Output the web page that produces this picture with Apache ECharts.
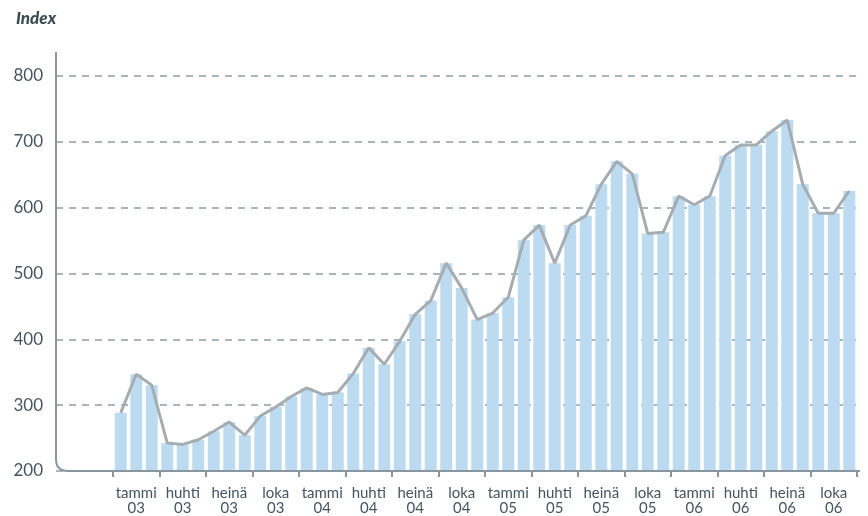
<!DOCTYPE html>
<html>
<head>
<meta charset="utf-8">
<script src="https://cdn.jsdelivr.net/npm/echarts@6/dist/echarts.min.js"></script>
<style>
  html, body { margin: 0; padding: 0; background: #fff; }
  #chart { width: 868px; height: 516px; }
</style>
</head>
<body>
<div id="chart"></div>
<script>
const monthNames = ['tammi', 'helmi', 'maalis', 'huhti', 'touko', 'kesä', 'heinä', 'elo', 'syys', 'loka', 'marras', 'joulu']
const years = ['03', '04', '05', '06']
const months = years.flatMap(y => monthNames.map(m => m + ' ' + y))
const quarterLabels = [
  'tammi\n03', 'huhti\n03', 'heinä\n03', 'loka\n03',
  'tammi\n04', 'huhti\n04', 'heinä\n04', 'loka\n04',
  'tammi\n05', 'huhti\n05', 'heinä\n05', 'loka\n05',
  'tammi\n06', 'huhti\n06', 'heinä\n06', 'loka\n06'
]
// kuukausittainen indeksi
const indexValues = [
  287, 346, 329, 241, 239, 246, 259, 273, 253, 282, 296, 312,
  325, 315, 318, 347, 386, 361, 396, 437, 458, 515, 477, 429,
  439, 463, 550, 573, 515, 573, 587, 635, 670, 651, 560, 562,
  617, 604, 617, 679, 695, 695, 716, 733, 635, 591, 591, 625
]
const yTicks = { min: 200, max: 800, step: 100 }

const axisColor = '#8896a0'
const textColor = '#45555f'

const chart = echarts.init(document.getElementById('chart'))
const option = {
  animation: false,
  title: {
    text: 'Index',
    left: 11,
    top: 5,
    textStyle: {
      fontFamily: 'Lato',
      fontStyle: 'italic',
      fontWeight: 900,
      fontSize: 17,
      color: '#3b4b56'
    }
  },
  grid: [
    { left: 56, right: 8, top: 76, bottom: 45 },
    { left: 113, right: 11, top: 76, bottom: 45 }
  ],
  xAxis: [
    { type: 'value', gridIndex: 0, min: 0, max: 1, show: false },
    { type: 'category', gridIndex: 1, data: months, show: false, position: 'top' },
    {
      type: 'category',
      gridIndex: 1,
      data: quarterLabels,
      position: 'bottom',
      axisLine: { show: false },
      axisTick: { show: true, length: 7, lineStyle: { color: axisColor, width: 2 } },
      axisLabel: {
        interval: 0,
        fontFamily: 'Lato',
        fontSize: 15,
        lineHeight: 15,
        color: textColor,
        margin: 16
      }
    }
  ],
  yAxis: [
    {
      type: 'value',
      gridIndex: 0,
      min: yTicks.min,
      max: yTicks.max,
      interval: yTicks.step,
      axisLine: { show: false },
      axisTick: { show: false },
      axisLabel: { fontFamily: 'Lato', fontSize: 17, color: textColor, margin: 13 },
      splitLine: { lineStyle: { type: [7, 6], color: '#aab4bb', width: 2 } }
    },
    {
      type: 'value',
      gridIndex: 1,
      min: yTicks.min,
      max: yTicks.max,
      interval: yTicks.step,
      show: false,
      splitLine: { show: false }
    }
  ],
  series: [
    {
      type: 'bar',
      xAxisIndex: 1,
      yAxisIndex: 1,
      data: indexValues,
      barWidth: 12,
      itemStyle: { color: '#bcdbf1' },
      z: 2
    },
    {
      type: 'line',
      xAxisIndex: 1,
      yAxisIndex: 1,
      data: indexValues,
      symbol: 'none',
      lineStyle: { color: '#a5adb3', width: 3 },
      z: 3
    }
  ]
}
chart.setOption(option)

// akselit pyöristetyllä kulmalla
const x0 = chart.convertToPixel({ xAxisIndex: 0 }, 0)
const x1 = chart.convertToPixel({ xAxisIndex: 0 }, 1)
const yb = chart.convertToPixel({ yAxisIndex: 0 }, yTicks.min)
const yt = chart.convertToPixel({ yAxisIndex: 0 }, yTicks.max) - 24
const r = 12
const axisStyle = { stroke: axisColor, lineWidth: 2, fill: null }
chart.setOption({
  graphic: [
    { type: 'line', z: 10, shape: { x1: x0, y1: yt, x2: x0, y2: yb - r }, style: axisStyle },
    {
      type: 'bezierCurve',
      z: 10,
      shape: { x1: x0, y1: yb - r, x2: x0 + r, y2: yb, cpx1: x0, cpy1: yb },
      style: axisStyle
    },
    { type: 'line', z: 10, shape: { x1: x0 + r, y1: yb, x2: x1, y2: yb }, style: axisStyle }
  ]
})
</script>
</body>
</html>
